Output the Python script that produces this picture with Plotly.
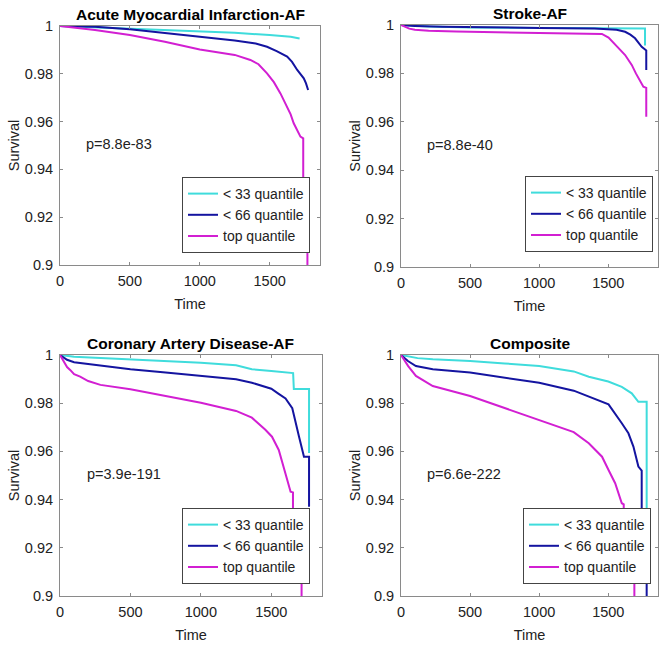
import plotly.graph_objects as go

W, H = 666, 652

titles = ["Acute Myocardial Infarction-AF", "Stroke-AF",
          "Coronary Artery Disease-AF", "Composite"]
pvalues = ["p=8.8e-83", "p=8.8e-40", "p=3.9e-191", "p=6.6e-222"]
series_names = ["< 33 quantile", "< 66 quantile", "top quantile"]
x_ticks = [0, 500, 1000, 1500]
y_ticks = [0.9, 0.92, 0.94, 0.96, 0.98, 1.0]
y_tick_labels = ["0.9", "0.92", "0.94", "0.96", "0.98", "1"]

# ---- Acute Myocardial Infarction-AF ----
ami_low_t = [0, 100, 250, 500, 750, 1000, 1250, 1500, 1650, 1714]
ami_low_s = [1.0, 0.9998, 0.9994, 0.9989, 0.9984, 0.998, 0.9972, 0.9962, 0.9955, 0.9948]
ami_mid_t = [0, 100, 250, 500, 750, 1000, 1250, 1400, 1481, 1550, 1625, 1660, 1697, 1720, 1744, 1760, 1775]
ami_mid_s = [1.0, 0.9999, 0.9997, 0.9986, 0.9969, 0.9955, 0.9939, 0.9927, 0.9913, 0.9895, 0.9872, 0.985, 0.9816, 0.98, 0.9781, 0.976, 0.9732]
ami_top_t = [0, 100, 250, 500, 750, 1000, 1250, 1362, 1420, 1481, 1530, 1577, 1625, 1650, 1672, 1700, 1720, 1740, 1740, 1770, 1770]
ami_top_s = [1.0, 0.9993, 0.9983, 0.9962, 0.9934, 0.9902, 0.9879, 0.9858, 0.984, 0.9802, 0.9765, 0.9718, 0.9662, 0.963, 0.9593, 0.956, 0.9537, 0.953, 0.925, 0.925, 0.88]

# ---- Stroke-AF ----
str_low_t = [0, 100, 200, 500, 1000, 1500, 1766, 1766]
str_low_s = [1.0, 0.9997, 0.9994, 0.999, 0.9988, 0.9987, 0.9986, 0.9915]
str_mid_t = [0, 100, 300, 600, 1000, 1400, 1500, 1560, 1622, 1660, 1694, 1720, 1742, 1771, 1775, 1775]
str_mid_s = [1.0, 0.9996, 0.9993, 0.999, 0.9988, 0.9986, 0.9984, 0.998, 0.9972, 0.996, 0.9945, 0.9928, 0.991, 0.9897, 0.9895, 0.9814]
str_top_t = [0, 30, 60, 100, 200, 400, 700, 1000, 1300, 1454, 1502, 1530, 1550, 1590, 1622, 1650, 1670, 1700, 1718, 1740, 1754, 1775, 1775]
str_top_s = [1.0, 0.9992, 0.9985, 0.998, 0.9976, 0.9973, 0.9971, 0.9969, 0.9967, 0.9963, 0.9948, 0.993, 0.9917, 0.9895, 0.9876, 0.985, 0.9835, 0.98, 0.978, 0.9755, 0.9745, 0.974, 0.9621]

# ---- Coronary Artery Disease-AF ----
cad_low_t = [0, 100, 250, 500, 750, 1000, 1250, 1362, 1500, 1600, 1655, 1660, 1768, 1768]
cad_low_s = [1.0, 0.9993, 0.9989, 0.9982, 0.9975, 0.9968, 0.9957, 0.9941, 0.9934, 0.9927, 0.9925, 0.9859, 0.9859, 0.9593]
cad_mid_t = [0, 25, 50, 100, 200, 300, 500, 750, 1000, 1250, 1362, 1450, 1500, 1550, 1601, 1649, 1672, 1697, 1732, 1768, 1768]
cad_mid_s = [1.0, 0.9988, 0.998, 0.997, 0.9962, 0.9955, 0.9941, 0.9927, 0.9913, 0.9899, 0.9885, 0.9868, 0.986, 0.984, 0.982, 0.9779, 0.9717, 0.9661, 0.9578, 0.9578, 0.937]
cad_top_t = [0, 25, 50, 72, 100, 143, 200, 287, 500, 750, 1000, 1250, 1362, 1458, 1505, 1553, 1601, 1637, 1654, 1654, 1715, 1715]
cad_top_s = [1.0, 0.9972, 0.995, 0.9938, 0.992, 0.991, 0.9892, 0.9876, 0.9858, 0.983, 0.9802, 0.9768, 0.974, 0.969, 0.9661, 0.9606, 0.9509, 0.9433, 0.943, 0.915, 0.915, 0.88]

# ---- Composite ----
com_low_t = [0, 60, 120, 230, 500, 750, 1000, 1250, 1359, 1500, 1598, 1670, 1718, 1778, 1778]
com_low_s = [1.0, 0.9993, 0.9987, 0.9982, 0.9975, 0.9965, 0.9954, 0.9932, 0.991, 0.989, 0.9868, 0.9841, 0.9806, 0.9806, 0.925]
com_mid_t = [0, 50, 108, 230, 500, 750, 1000, 1250, 1359, 1502, 1598, 1646, 1682, 1718, 1742, 1742, 1778, 1778]
com_mid_s = [1.0, 0.9975, 0.9954, 0.9941, 0.9927, 0.9907, 0.9885, 0.9852, 0.9827, 0.9795, 0.9717, 0.9675, 0.962, 0.9537, 0.952, 0.92, 0.92, 0.88]
com_top_t = [0, 25, 52, 108, 230, 500, 750, 1000, 1250, 1359, 1455, 1502, 1550, 1598, 1612, 1612, 1689, 1689]
com_top_s = [1.0, 0.9975, 0.9954, 0.9913, 0.9871, 0.983, 0.978, 0.9733, 0.968, 0.9634, 0.9578, 0.9523, 0.9468, 0.9385, 0.938, 0.915, 0.915, 0.88]

panels = [
    [(ami_low_t, ami_low_s), (ami_mid_t, ami_mid_s), (ami_top_t, ami_top_s)],
    [(str_low_t, str_low_s), (str_mid_t, str_mid_s), (str_top_t, str_top_s)],
    [(cad_low_t, cad_low_s), (cad_mid_t, cad_mid_s), (cad_top_t, cad_top_s)],
    [(com_low_t, com_low_s), (com_mid_t, com_mid_s), (com_top_t, com_top_s)],
]

colors = ["#3fdcdc", "#1414a0", "#d21fd2"]
FONT = "Liberation Sans, Arial, sans-serif"
FS = 14.5

# axes boxes in pixels: left, right, top, bottom
boxes = [(60, 320, 26, 265), (401, 658, 25, 267), (60, 322, 355, 596), (401, 658, 355, 596)]
# legend anchor (right, bottom) in pixels
leg_pos = [(310, 253), (653, 252), (310, 584), (651, 584)]

fig = go.Figure()
layout = dict(width=W, height=H, margin=dict(l=0, r=0, t=0, b=0, autoexpand=False),
              paper_bgcolor="white", plot_bgcolor="white",
              font=dict(family=FONT, size=FS, color="#222"))
annotations = []

for i, (curves, box) in enumerate(zip(panels, boxes)):
    n = "" if i == 0 else str(i + 1)
    xa, ya = "x" + n, "y" + n
    leg = "legend" + n
    for (t, s), name, c in zip(curves, series_names, colors):
        fig.add_trace(go.Scatter(x=t, y=s, mode="lines", name=name,
                                 line=dict(color=c, width=2),
                                 xaxis=xa, yaxis=ya, legend=leg, showlegend=True))
    l, r, tp, bt = box
    axis_common = dict(showline=True, linecolor="#8a8a8a", linewidth=1, mirror="ticks",
                       ticks="inside", ticklen=3, tickcolor="#8a8a8a",
                       showgrid=False, zeroline=False, automargin=False,
                       tickfont=dict(family=FONT, size=FS, color="#222"))
    layout["xaxis" + n] = dict(domain=[l / W, r / W], anchor=ya, range=[0, 1860],
                               tickvals=x_ticks, ticktext=[str(v) for v in x_ticks],
                               ticklabelstandoff=3,
                               title=dict(text="Time", font=dict(size=FS, family=FONT, color="#222"), standoff=10),
                               **axis_common)
    layout["yaxis" + n] = dict(domain=[1 - bt / H, 1 - tp / H], anchor=xa, range=[0.9, 1.0],
                               tickvals=y_ticks, ticktext=y_tick_labels,
                               ticklabelstandoff=3,
                               title=dict(text="Survival", font=dict(size=FS, family=FONT, color="#222"), standoff=1),
                               **axis_common)
    lr, lb = leg_pos[i]
    layout[leg] = dict(x=lr / W, y=1 - lb / H, xanchor="right", yanchor="bottom",
                       bgcolor="white", bordercolor="#444", borderwidth=1,
                       font=dict(family=FONT, size=14, color="#222"),
                       tracegroupgap=0, itemwidth=30)
    annotations.append(dict(text="<b>" + titles[i] + "</b>", xref="paper", yref="paper",
                            x=(l + r) / 2 / W, y=1 - tp / H, xanchor="center", yanchor="bottom",
                            yshift=1, showarrow=False,
                            font=dict(family=FONT, size=15.5, color="black")))
    annotations.append(dict(text=pvalues[i], xref=xa, yref=ya, x=175, y=0.9505,
                            xanchor="left", yanchor="middle", showarrow=False,
                            font=dict(family=FONT, size=FS, color="#222")))

layout["annotations"] = annotations
fig.update_layout(**layout)
fig.write_html("out.html", config={"displayModeBar": False},
               post_script="document.body.style.margin='0';document.body.style.padding='0';")
